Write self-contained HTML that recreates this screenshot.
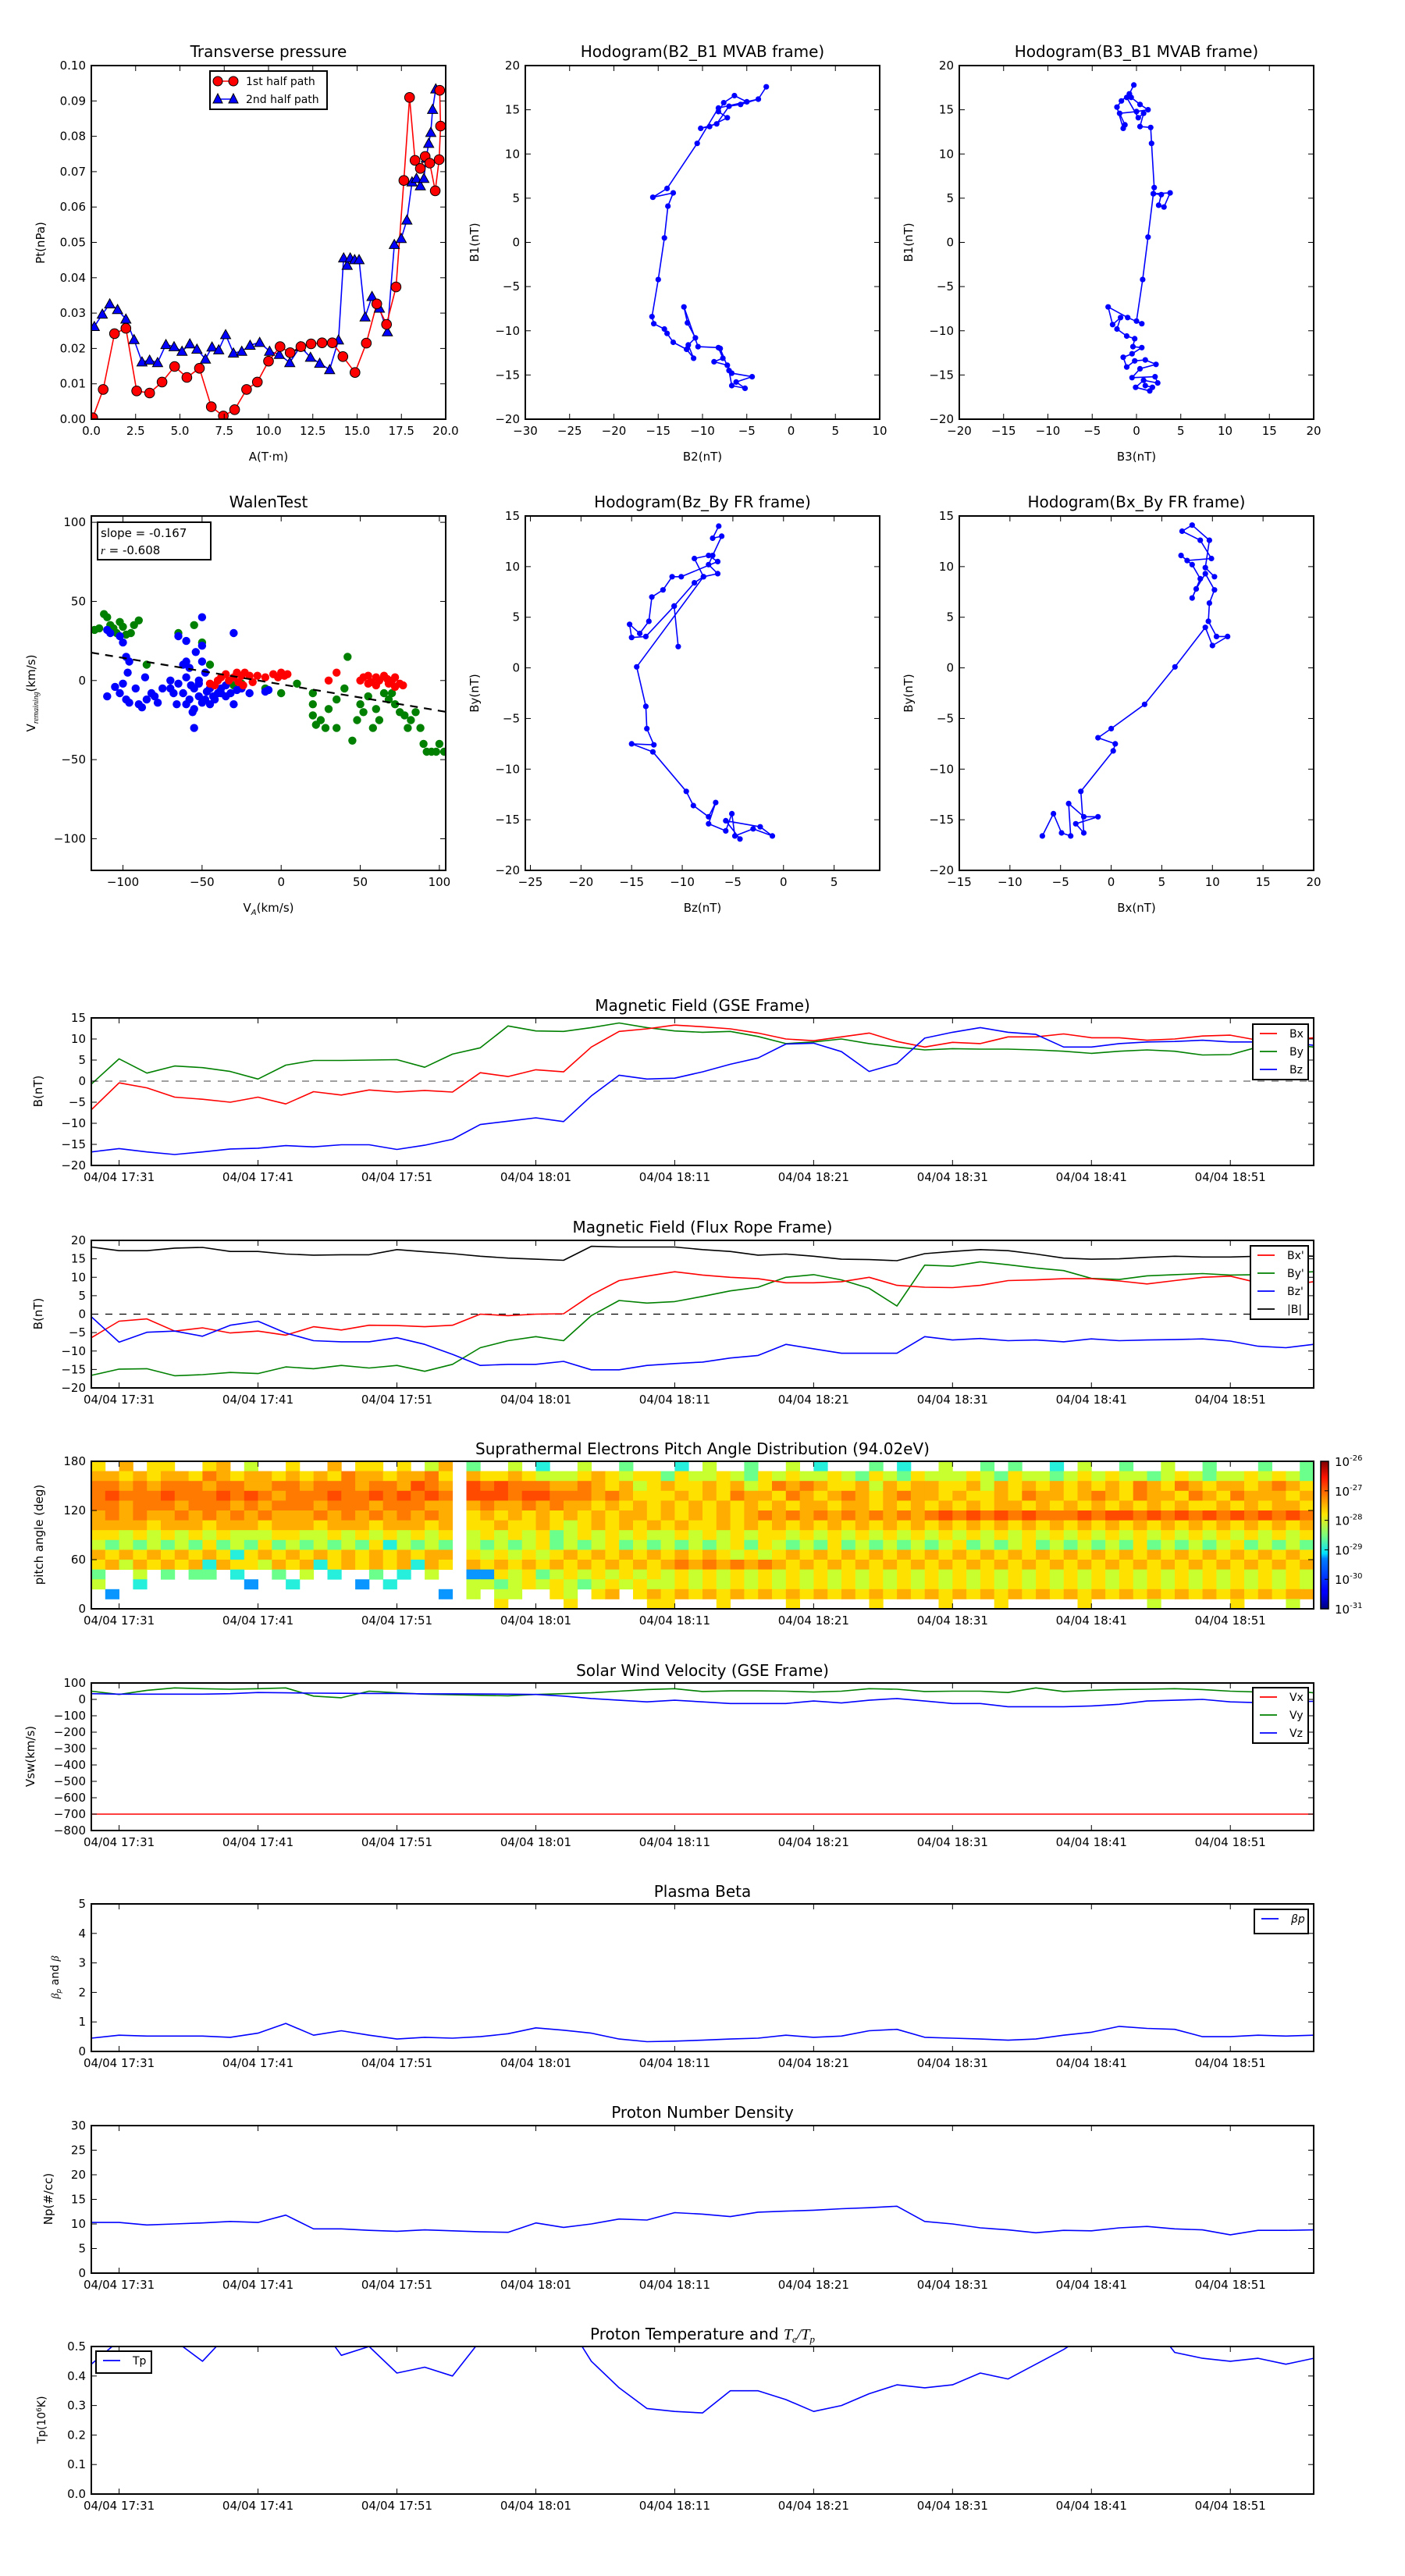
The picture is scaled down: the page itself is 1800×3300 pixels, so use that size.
<!DOCTYPE html>
<html><head><meta charset="utf-8"><title>Flux rope analysis figure</title>
<style>
html,body{margin:0;padding:0;background:#fff;}
svg{display:block;font-family:"DejaVu Sans","Liberation Sans",sans-serif;}
</style></head>
<body>
<svg id="fig" xmlns="http://www.w3.org/2000/svg" width="1800" height="3300" viewBox="0 0 1800 3300">
<rect x="0" y="0" width="1800" height="3300" fill="#fff"/>
<defs>
<linearGradient id="jet" x1="0" y1="1" x2="0" y2="0">
<stop offset="0" stop-color="#00007f"/><stop offset="0.11" stop-color="#0000ff"/><stop offset="0.125" stop-color="#0000ff"/>
<stop offset="0.34" stop-color="#0080ff"/><stop offset="0.375" stop-color="#00e0ff"/><stop offset="0.5" stop-color="#7dff7a"/>
<stop offset="0.64" stop-color="#ffe600"/><stop offset="0.75" stop-color="#ff8c00"/><stop offset="0.89" stop-color="#ff1400"/><stop offset="1" stop-color="#7f0000"/>
</linearGradient>
</defs>
</svg>
<script>
// ---------------- DATA ----------------
// Transverse pressure
const tpA1 = [0.08,0.67,1.31,1.95,2.56,3.29,3.99,4.7,5.39,6.1,6.77,7.45,8.09,8.76,9.37,10.0,10.65,11.22,11.83,12.4,13.02,13.6,14.2,14.88,15.52,16.11,16.66,17.2,17.64,17.96,18.27,18.57,18.84,19.1,19.41,19.63,19.71,19.66];
const tpP1 = [0.0004,0.0084,0.0242,0.0257,0.0080,0.0074,0.0105,0.0149,0.0118,0.0144,0.0035,0.0009,0.0027,0.0084,0.0105,0.0164,0.0205,0.0188,0.0205,0.0213,0.0216,0.0216,0.0177,0.0132,0.0215,0.0326,0.0268,0.0374,0.0675,0.091,0.0732,0.0709,0.0743,0.0724,0.0646,0.0734,0.0829,0.093];
const tpA2 = [0.17,0.62,1.04,1.48,1.95,2.41,2.86,3.29,3.74,4.21,4.67,5.12,5.56,5.96,6.44,6.81,7.19,7.58,8.02,8.49,8.96,9.5,10.06,10.61,11.2,11.79,12.37,12.89,13.45,13.95,14.24,14.44,14.61,14.86,15.11,15.45,15.84,16.26,16.71,17.1,17.49,17.81,18.1,18.35,18.57,18.77,18.9,19.04,19.16,19.26,19.44];
const tpP2 = [0.0262,0.0297,0.0326,0.031,0.0283,0.0225,0.0162,0.0167,0.016,0.0211,0.0205,0.0192,0.0213,0.0198,0.017,0.0204,0.0196,0.0239,0.0187,0.0192,0.0209,0.0217,0.0192,0.0183,0.016,0.0205,0.0175,0.0158,0.014,0.0224,0.0456,0.0435,0.0456,0.0451,0.0451,0.0289,0.0347,0.0314,0.0247,0.0494,0.0511,0.0563,0.0671,0.0681,0.066,0.0681,0.0738,0.078,0.0811,0.0876,0.0934];
// Hodogram B2-B1
const h1X = [-2.8,-3.7,-5,-6.4,-7.6,-8.2,-7.2,-9.2,-10.2,-8.4,-7,-5.7,-3.7,-8.2,-10.6,-14,-15.6,-13.3,-13.9,-14.3,-15,-15.7,-15.5,-14.3,-14,-13.3,-11.8,-11,-11.6,-10.8,-11.7,-12.1,-10.5,-8.2,-7.7,-8.7,-7.2,-6.7,-4.4,-6.2,-5.2,-6.7,-7,-8];
const h1Y = [17.6,16.2,15.9,16.6,15.8,14.8,14.1,13.1,12.9,13.4,15.4,15.6,16.2,15.2,11.2,6.1,5.1,5.6,4.1,0.5,-4.2,-8.4,-9.2,-9.8,-10.3,-11.3,-12.1,-13.1,-11.6,-10.8,-9.1,-7.3,-11.8,-11.9,-13.1,-13.5,-13.9,-14.8,-15.2,-15.8,-16.5,-16.2,-14.5,-12];
// Hodogram B3-B1
const h2X = [-0.3,-0.8,-1.7,-2.2,-1.5,-1.3,-1.9,0,1.3,0.4,-0.6,-1.1,0.2,0.8,0.4,1.6,1.7,2,1.9,3.8,3.1,2.5,2.8,1.9,1.3,0.7,0,0.6,-1,-3.2,-2.7,-1.8,-2.2,-1.1,-0.2,-0.4,0.6,-0.5,-1.5,-1.1,-0.2,1,2.2,0.4,-0.5,2.1,2.4,0.8,-0.1,1.5,1.8,1];
const h2Y = [17.8,16.8,16,15.3,12.9,13.3,14.6,14.8,15,15.6,16.4,16.4,14.1,14.6,13.1,13,11.2,6.2,5.5,5.6,4,4.2,5.4,5.5,0.6,-4.2,-8.9,-9.2,-8.5,-7.3,-9.3,-8.5,-9.8,-10.6,-10.9,-11.8,-11.9,-12.6,-13,-14.1,-13.4,-13.3,-13.8,-14.3,-15.3,-15.2,-15.9,-15.6,-16.4,-16.8,-16.4,-16.2];
// Hodogram Bz-By (FR)
const h3X = [-6.4,-7,-6.1,-7,-7.4,-6.5,-7.9,-8.8,-7.4,-6.5,-10.1,-11,-11.9,-13,-13.3,-14.2,-15.2,-15,-13.6,-10.8,-10.4,-10.8,-8.8,-7.9,-14.5,-13.6,-13.5,-12.8,-15,-12.9,-9.6,-8.9,-7.4,-6.7,-7.4,-5.7,-5.1,-4.8,-3,-1.1,-2.3,-5.7,-4.3];
const h3Y = [14,12.8,13,11.1,10.2,9.3,9,10.8,11.1,10.5,9,9,7.7,7,4.6,3.4,4.3,3,3.1,6.1,2.1,6.1,8.4,9,0.1,-3.8,-6,-7.6,-7.5,-8.3,-12.2,-13.6,-14.7,-13.3,-15.4,-16.1,-14.4,-16.6,-15.9,-16.6,-15.7,-15.1,-16.9];
// Hodogram Bx-By (FR)
const h4X = [-6.8,-5.7,-4.9,-4,-4.2,-2.7,-1.3,-3.5,-2.7,-3,0.2,0.4,-1.3,0,3.3,6.3,9.3,10,11.5,10.4,9.6,9.7,10.2,9.3,8.4,8,8.8,8,6.9,7.5,9.9,8.8,7,8,9.7,9.3,10.2];
const h4Y = [-16.6,-14.4,-16.3,-16.6,-13.4,-14.7,-14.7,-15.4,-16.3,-12.2,-8.2,-7.5,-6.9,-6,-3.6,0.1,4,2.2,3.1,3.1,4.6,6.4,7.7,9.3,7.8,6.9,8.8,10.2,11.1,10.6,10.8,12.6,13.5,14.1,12.6,9.9,9];
// Walen test
const walenSlope = -0.167, walenIntercept = -2.4;
const wBlueX = [-110,-108,-102,-100,-98,-96,-97,-100,-102,-98,-96,-90,-88,-85,-80,-78,-75,-70,-68,-65,-60,-62,-58,-55,-55,-52,-50,-50,-50,-48,-52,-55,-58,-60,-62,-45,-42,-40,-45,-48,-38,-35,-30,-30,-32,-28,-25,-20,-10,-8,-54,-60,-65,-70,-52,-47,-44,-50,-56,-66,-60,-57,-43,-38,-35,-105,-110,-92,-86,-82];
const wBlueY = [32,30,28,24,15,12,5,-2,-8,-12,-14,-15,-17,-12,-10,-14,-5,-5,-8,28,25,10,8,-18,-30,-10,40,22,12,5,0,-5,-12,-15,-8,-5,-12,-8,-15,-12,-5,-3,30,-15,-8,-6,-5,-8,-7,-6,18,2,-2,0,-2,-7,-3,-14,-20,-15,12,-3,-10,-8,-10,-4,-10,-5,2,-8];
const wGreenX = [-118,-115,-112,-110,-108,-106,-104,-102,-100,-98,-95,-93,-90,-85,-65,-55,-50,-45,-30,-25,-10,0,10,20,20,20,22,25,28,30,35,35,40,42,45,48,50,52,55,58,60,62,65,68,70,72,75,78,80,82,85,88,90,92,95,98,100,103];
const wGreenY = [32,33,42,40,35,33,30,37,34,29,30,35,38,10,30,35,24,10,-3,-2,-5,-8,-2,-8,-15,-22,-28,-25,-30,-18,-30,-12,-5,15,-38,-25,-15,-20,-10,-30,-18,-25,-8,-12,-8,-15,-20,-22,-30,-25,-20,-30,-40,-45,-45,-45,-40,-45];
const wRedX = [-40,-38,-35,-33,-30,-28,-25,-23,-20,-15,-10,-5,-2,0,2,4,50,52,55,57,60,62,65,67,70,72,75,77,60,55,68,72,30,35,-27,-24,-18,-42,-45];
const wRedY = [0,2,4,0,2,5,3,5,3,3,2,4,2,5,3,4,0,2,3,-1,2,0,3,1,0,2,-2,-3,-3,-2,-2,-4,0,5,-1,-3,-1,-3,-2];
// Time series (minutes after 17:29, 2-min sampling)
const tMin = [0,2,4,6,8,10,12,14,16,18,20,22,24,26,28,30,32,34,36,38,40,42,44,46,48,50,52,54,56,58,60,62,64,66,68,70,72,74,76,78,80,82,84,86,88];
const timeTickMin = [2,12,22,32,42,52,62,72,82];
const timeTickLabels = ["04/04 17:31","04/04 17:41","04/04 17:51","04/04 18:01","04/04 18:11","04/04 18:21","04/04 18:31","04/04 18:41","04/04 18:51"];
const bxGSE = [-6.8,-0.4,-1.6,-3.8,-4.3,-5,-3.8,-5.4,-2.5,-3.3,-2.1,-2.6,-2.2,-2.6,2,1.1,2.7,2.2,8.1,11.8,12.4,13.3,12.9,12.4,11.4,10,9.6,10.5,11.4,9.4,8.1,9.2,8.9,10.5,10.5,11.2,10.3,10.3,9.7,10,10.7,10.9,9.7,9.7,10.3];
const byGSE = [-0.7,5.3,1.9,3.6,3.2,2.3,0.5,3.8,4.9,4.9,5,5.1,3.3,6.4,7.9,13.1,11.9,11.8,12.7,13.8,12.7,11.9,11.6,11.8,10.6,8.9,9.3,10,8.9,8.1,7.4,7.7,7.6,7.6,7.4,7.1,6.6,7.1,7.4,7.1,6.2,6.3,8.1,8.8,8.1];
const bzGSE = [-16.8,-16,-16.8,-17.4,-16.8,-16.1,-15.9,-15.3,-15.6,-15.1,-15.1,-16.2,-15.2,-13.8,-10.3,-9.5,-8.7,-9.6,-3.5,1.4,0.5,0.7,2.2,4,5.5,8.8,9,7,2.3,4.2,10.2,11.6,12.7,11.6,11.1,8.1,8.1,8.9,9.3,9.4,9.7,9.3,9.3,9.2,8.5];
const bxFR = [-6.4,-1.9,-1.3,-4.6,-3.7,-5.1,-4.6,-5.7,-3.4,-4.3,-3,-3.1,-3.4,-3,0,-0.4,0,0.1,5.2,9.1,10.3,11.5,10.6,10,9.6,8.5,8.5,8.8,10,7.8,7.3,7.2,7.8,9.1,9.3,9.6,9.6,9,8.2,9.1,10,10.3,8.5,7.8,8.8];
const byFR = [-16.6,-14.9,-14.8,-16.7,-16.4,-15.8,-16.1,-14.3,-14.8,-13.9,-14.6,-13.9,-15.5,-13.6,-9.1,-7.2,-6.1,-7.2,-0.4,3.7,3,3.4,4.8,6.3,7.3,10,10.7,9.3,7,2.2,13.3,13,14.2,13.4,12.5,11.8,9.7,9.4,10.4,10.7,11,10.6,10.7,11.2,11.5];
const bzFR = [-0.7,-7.6,-4.9,-4.6,-6,-3,-1.9,-5.1,-7.2,-7.5,-7.5,-6.4,-8.2,-10.9,-13.9,-13.6,-13.6,-12.8,-15.1,-15.1,-13.9,-13.4,-13,-11.9,-11.2,-8.2,-9.4,-10.6,-10.6,-10.6,-6.1,-7,-6.6,-7.2,-7,-7.5,-6.7,-7.2,-7,-6.9,-6.7,-7.3,-8.7,-9.1,-8.2];
const btFR = [18.2,17.2,17.2,17.9,18.1,17,17,16.3,16,16.1,16.1,17.5,16.9,16.4,15.7,15.2,14.9,14.6,18.4,18.2,18.2,18.2,17.5,17,16,16.3,15.7,14.9,14.8,14.5,16.4,17,17.5,17.2,16.3,15.2,14.9,15,15.4,15.7,15.5,15.5,15.7,16,15.7];
const vxSW = [-700,-700,-700,-700,-700,-700,-700,-700,-700,-700,-700,-700,-700,-700,-700,-700,-700,-700,-700,-700,-700,-700,-700,-700,-700,-700,-700,-700,-700,-700,-700,-700,-700,-700,-700,-700,-700,-700,-700,-700,-700,-700,-700,-700,-700];
const vySW = [50,30,55,70,65,62,65,70,20,10,50,40,32,28,25,22,30,35,40,50,60,65,48,52,52,50,45,50,65,62,48,50,50,42,70,48,55,60,62,65,60,50,45,55,40];
const vzSW = [35,32,32,32,32,35,42,40,38,37,36,36,34,34,33,32,30,20,5,-5,-15,-5,-15,-25,-25,-25,-10,-22,-5,5,-10,-25,-25,-45,-45,-45,-40,-30,-10,-5,0,-15,-20,-15,-12];
const betaP = [0.45,0.55,0.52,0.52,0.52,0.48,0.62,0.95,0.55,0.7,0.55,0.42,0.48,0.45,0.5,0.6,0.8,0.72,0.62,0.42,0.33,0.35,0.38,0.42,0.45,0.55,0.48,0.52,0.7,0.75,0.48,0.45,0.42,0.38,0.42,0.55,0.65,0.85,0.78,0.75,0.5,0.5,0.55,0.52,0.55];
const npDen = [10.3,10.3,9.8,10,10.2,10.5,10.3,11.8,9,9,8.7,8.5,8.8,8.6,8.4,8.3,10.2,9.3,10,11,10.8,12.3,12,11.5,12.4,12.6,12.8,13.1,13.3,13.6,10.5,10,9.2,8.8,8.2,8.7,8.6,9.2,9.5,9,8.8,7.8,8.7,8.7,8.8];
const tpTemp = [0.44,0.52,0.55,0.52,0.45,0.55,0.52,0.6,0.6,0.47,0.5,0.41,0.43,0.4,0.52,0.6,0.6,0.6,0.45,0.36,0.29,0.28,0.275,0.35,0.35,0.32,0.28,0.3,0.34,0.37,0.36,0.37,0.41,0.39,0.44,0.49,0.55,0.6,0.6,0.48,0.46,0.45,0.46,0.44,0.46];
// Pitch angle distribution: rows of 12-deg bins from 168-180 (top) to 0-12 (bottom); one char per minute, '.' = no data
const padRows = [
"5.6.55..56.4..5..6.55.5.46"+"."+"3..4.2..4..3...2.4..3..4.2...3.2..4..3.3..2.4..3..4..3...3..3",
"66565665765665656576656675"+"."+"6556544456545535445435454454354354445435443454544345434454543",
"77676777677667767776776876"+"."+"8787776676564565565645767655646566556465656565657657656656765",
"78777877787876777877878787"+"."+"8887887776765556565766576567656766565565766567657665765766656",
"77677767776767776777677766"+"."+"6766767665656565656565656656656565656566565656565656556565665",
"67676676767676667676767676"+"."+"5656565656566565656567676767676767878787877787887878787878787",
"66665666566656665666566656"+"."+"5565565456565656556565656565656565656565656565656565656565656",
"55454545454445544545454545"+"."+"4545453454545445454545545454545454545454545454545454545454545",
"43434343534353434343524343"+"."+"4343453434534343434535434353434343453434534343435343434534343",
"65656565652565656565656566"+"."+"5454545656565656565454565656565656565656565656565656565656565",
"56465656265546562565656265"+"."+"6565656565656567676767656565656565656565656565656565656565656",
"3..4.3.33.2..3.4.2..3.2.4."+"."+"1154534545454545454545454545454545454545454545454545454545454",
"4..2.......1..2....1.2...."+"."+"4434545434545445454545454545454545454545454545454545454545454",
".1.......................1"+"."+"4.44..54.56.5656565656565656565656565656565656565656565656566",
".........................."+"."+"..5....5.....55...5....5.....5....5...5.....5....4.....5...4."
];
const padLevelColors = {"1":"#0a96ff","2":"#26f0dc","3":"#6bff8c","4":"#c8ff2e","5":"#ffe100","6":"#ffad00","7":"#ff7a00","8":"#ff4a00"};
const cbarLabels = ["-31","-30","-29","-28","-27","-26"];

// ---------------- DRAWING ----------------
const NS = 'http://www.w3.org/2000/svg';
const root = document.getElementById('fig');
let clipId = 0;
function mk(tag, attrs, parent){
  const e = document.createElementNS(NS, tag);
  for (const k in attrs) e.setAttribute(k, attrs[k]);
  (parent || root).appendChild(e);
  return e;
}
function text(s, x, y, size, anchor, parent){
  const t = mk('text', {x:x, y:y, 'font-size':size, 'text-anchor':anchor||'start', fill:'#000'}, parent);
  t.textContent = s;
  return t;
}
function fmt(v, d){ const s = v.toFixed(d); return s.replace('-', '\u2212'); }

function makeAxes(name, box, xlim, ylim, xticks, yticks, xdec, ydec, xlabels){
  const g = mk('g', {});
  
  
  const sx = v => box.x0 + (v - xlim[0]) / (xlim[1] - xlim[0]) * (box.x1 - box.x0);
  const sy = v => box.y1 - (v - ylim[0]) / (ylim[1] - ylim[0]) * (box.y1 - box.y0);
  const cid = 'clip' + (clipId++);
  const cp = mk('clipPath', {id: cid}, g);
  mk('rect', {x: box.x0, y: box.y0, width: box.x1 - box.x0, height: box.y1 - box.y0}, cp);
  const data = mk('g', {'clip-path': 'url(#' + cid + ')'}, g);
  
  
  const ax = {g, data, sx, sy, box};
  ax.finish = function(){
    const tg = mk('g', {stroke:'#000', 'stroke-width':1}, g);
    
    
    const lg = mk('g', {}, g);
    
    
    xticks.forEach((v, i) => {
      const x = sx(v);
      mk('line', {x1:x, x2:x, y1:box.y1, y2:box.y1 - 7}, tg);
      mk('line', {x1:x, x2:x, y1:box.y0, y2:box.y0 + 7}, tg);
      const lab = xlabels ? xlabels[i] : fmt(v, xdec);
      const t = text(lab, x, box.y1 + 20, 15, 'middle', lg);
      
      
    });
    yticks.forEach(v => {
      const y = sy(v);
      mk('line', {x1:box.x0, x2:box.x0 + 7, y1:y, y2:y}, tg);
      mk('line', {x1:box.x1, x2:box.x1 - 7, y1:y, y2:y}, tg);
      const t = text(fmt(v, ydec), box.x0 - 7, y + 5, 15, 'end', lg);
      
      
    });
    const fr = mk('rect', {x:box.x0, y:box.y0, width:box.x1 - box.x0, height:box.y1 - box.y0, fill:'none', stroke:'#000', 'stroke-width':2}, g);
    
    
  };
  return ax;
}
function title(s, x, y, parent){
  const t = text(s, x, y, 20, 'middle', parent || root);
  
  
  return t;
}
function ylabel(s, x, y, parent){
  const t = mk('text', {x:0, y:0, 'font-size':15, 'text-anchor':'middle', transform:'translate(' + x + ',' + y + ') rotate(-90)'}, parent || root);
  t.textContent = s;
  
  
  return t;
}
function xlabel(s, x, y, parent){
  const t = text(s, x, y, 15, 'middle', parent || root);
  
  
  return t;
}
function polyline(ax, xs, ys, color, name, width){
  const pts = xs.map((x, i) => ax.sx(x).toFixed(1) + ',' + ax.sy(ys[i]).toFixed(1)).join(' ');
  const p = mk('polyline', {points:pts, fill:'none', stroke:color, 'stroke-width':width || 1.6, 'stroke-linejoin':'round'}, ax.data);
  
  
  return p;
}
function dots(ax, xs, ys, color, r, name, edge){
  const g = mk('g', {fill:color}, ax.data);
  
  
  xs.forEach((x, i) => {
    const c = mk('circle', {cx:ax.sx(x).toFixed(1), cy:ax.sy(ys[i]).toFixed(1), r:r}, g);
    if (edge) { c.setAttribute('stroke', '#000'); c.setAttribute('stroke-width', 1); }
    
    
  });
  return g;
}
function tris(ax, xs, ys, color, s, name){
  const g = mk('g', {fill:color, stroke:'#000', 'stroke-width':1}, ax.data);
  
  
  xs.forEach((x, i) => {
    const cx = ax.sx(x), cy = ax.sy(ys[i]);
    const p = mk('polygon', {points:(cx) + ',' + (cy - s) + ' ' + (cx - s) + ',' + (cy + s * 0.8) + ' ' + (cx + s) + ',' + (cy + s * 0.8)}, g);
    
    
  });
}
function legendBox(x0, y0, w, h, entries, name){
  const g = mk('g', {});
  
  
  mk('rect', {x:x0, y:y0, width:w, height:h, fill:'#fff', stroke:'#000', 'stroke-width':2}, g);
  entries.forEach((e, i) => {
    const y = y0 + 12 + i * 23;
    const eg = mk('g', {}, g);
    
    
    mk('line', {x1:x0 + 9, x2:x0 + 31, y1:y, y2:y, stroke:e.c, 'stroke-width':1.8}, eg);
    const t = text(e.t, x0 + 47, y + 5, 14, 'start', eg);
    if (e.italic) t.setAttribute('font-style', 'italic');
  });
}

// ---- Transverse pressure ----
const tpBox = {x0:117, x1:571, y0:84, y1:537};
const axTP = makeAxes('transverse-pressure-chart', tpBox, [0,20], [0,0.10], [0,2.5,5,7.5,10,12.5,15,17.5,20], [0,0.01,0.02,0.03,0.04,0.05,0.06,0.07,0.08,0.09,0.10], 1, 2);
polyline(axTP, tpA2, tpP2, '#0000ff', 'second-half-path-line');
polyline(axTP, tpA1, tpP1, '#ff0000', 'first-half-path-line');
tris(axTP, tpA2, tpP2, '#0000ff', 6.5, 'second-half-path-markers');
dots(axTP, tpA1, tpP1, '#ff0000', 6.3, 'first-half-path-markers', true);
axTP.finish();
title('Transverse pressure', 344, 73);
xlabel('A(T\u00b7m)', 344, 590);
ylabel('Pt(nPa)', 57, 311);
(function(){
  const g = mk('g', {});
  
  
  mk('rect', {x:269, y:91, width:150, height:49, fill:'#fff', stroke:'#000', 'stroke-width':2}, g);
  mk('line', {x1:279, x2:299, y1:104, y2:104, stroke:'#f00', 'stroke-width':1.6}, g);
  mk('circle', {cx:279, cy:104, r:6, fill:'#f00', stroke:'#000'}, g);
  mk('circle', {cx:299, cy:104, r:6, fill:'#f00', stroke:'#000'}, g);
  text('1st half path', 315, 109, 14, 'start', g);
  mk('line', {x1:279, x2:299, y1:127, y2:127, stroke:'#00f', 'stroke-width':1.6}, g);
  mk('polygon', {points:'279,120 273,132 285,132', fill:'#00f', stroke:'#000'}, g);
  mk('polygon', {points:'299,120 293,132 305,132', fill:'#00f', stroke:'#000'}, g);
  text('2nd half path', 315, 132, 14, 'start', g);
})();

// ---- Hodograms ----
function hodo(name, box, xlim, ylim, xt, yt, xs, ys, ttl, xl, yl, ylx){
  const ax = makeAxes(name, box, xlim, ylim, xt, yt, 0, 0);
  polyline(ax, xs, ys, '#0000ff', name + '-path', 1.6);
  dots(ax, xs, ys, '#0000ff', 3.6, name + '-samples', false);
  ax.finish();
  title(ttl, (box.x0 + box.x1) / 2, box.y0 - 11);
  xlabel(xl, (box.x0 + box.x1) / 2, box.y1 + 53);
  ylabel(yl, ylx, (box.y0 + box.y1) / 2);
  return ax;
}
hodo('hodogram-b2-b1', {x0:673, x1:1127, y0:84, y1:537}, [-30,10], [-20,20], [-30,-25,-20,-15,-10,-5,0,5,10], [-20,-15,-10,-5,0,5,10,15,20], h1X, h1Y, 'Hodogram(B2_B1 MVAB frame)', 'B2(nT)', 'B1(nT)', 613);
hodo('hodogram-b3-b1', {x0:1229, x1:1683, y0:84, y1:537}, [-20,20], [-20,20], [-20,-15,-10,-5,0,5,10,15,20], [-20,-15,-10,-5,0,5,10,15,20], h2X, h2Y, 'Hodogram(B3_B1 MVAB frame)', 'B3(nT)', 'B1(nT)', 1169);
hodo('hodogram-bz-by', {x0:673, x1:1127, y0:661, y1:1115}, [-25.5,9.5], [-20,15], [-25,-20,-15,-10,-5,0,5], [-20,-15,-10,-5,0,5,10,15], h3X, h3Y, 'Hodogram(Bz_By FR frame)', 'Bz(nT)', 'By(nT)', 613);
hodo('hodogram-bx-by', {x0:1229, x1:1683, y0:661, y1:1115}, [-15,20], [-20,15], [-15,-10,-5,0,5,10,15,20], [-20,-15,-10,-5,0,5,10,15], h4X, h4Y, 'Hodogram(Bx_By FR frame)', 'Bx(nT)', 'By(nT)', 1169);

// ---- Walen test ----
const wBox = {x0:117, x1:571, y0:661, y1:1115};
const axW = makeAxes('walen-test-chart', wBox, [-120,104], [-120,104], [-100,-50,0,50,100], [-100,-50,0,50,100], 0, 0);
dots(axW, wGreenX, wGreenY, '#008000', 5.2, 'walen-green-points');
dots(axW, wBlueX, wBlueY, '#0000ff', 5.2, 'walen-blue-points');
dots(axW, wRedX, wRedY, '#ff0000', 5.2, 'walen-red-points');
(function(){
  const l = mk('line', {x1:axW.sx(-120), y1:axW.sy(walenSlope * -120 + walenIntercept), x2:axW.sx(104), y2:axW.sy(walenSlope * 104 + walenIntercept), stroke:'#000', 'stroke-width':2.2, 'stroke-dasharray':'10,8'}, axW.data);
  
  
})();
axW.finish();
title('WalenTest', 344, 650);
(function(){
  const g = mk('g', {});
  
  
  mk('rect', {x:125, y:669, width:145, height:48, fill:'#fff', stroke:'#000', 'stroke-width':2}, g);
  text('slope = -0.167', 129, 688, 15, 'start', g);
  const t = text('', 129, 710, 15, 'start', g);
  const a = mk('tspan', {'font-style':'italic', 'font-family':'Liberation Serif, serif'}, t); a.textContent = 'r';
  const b = mk('tspan', {}, t); b.textContent = ' = -0.608';
})();
(function(){
  const t = text('', 344, 1168, 15, 'middle');
  
  
  const a = mk('tspan', {}, t); a.textContent = 'V';
  const b = mk('tspan', {'font-size':10, 'font-style':'italic', dy:4}, t); b.textContent = 'A';
  const c = mk('tspan', {dy:-4}, t); c.textContent = '(km/s)';
  const y = mk('text', {x:0, y:0, 'font-size':15, 'text-anchor':'middle', transform:'translate(45,888) rotate(-90)'});
  
  
  const d = mk('tspan', {}, y); d.textContent = 'V';
  const e = mk('tspan', {'font-size':10, 'font-style':'italic', 'font-family':'Liberation Serif, serif', dy:4}, y); e.textContent = 'remaining';
  const f = mk('tspan', {dy:-4}, y); f.textContent = '(km/s)';
})();

// ---- Time-series panels ----
function timeAxes(name, top, ylim, yt, ydec){
  return makeAxes(name, {x0:117, x1:1683, y0:top, y1:top + 189}, [0,88], ylim, timeTickMin, yt, 0, ydec, timeTickLabels);
}
function zeroLine(ax, color){
  const l = mk('line', {x1:117, x2:1683, y1:ax.sy(0), y2:ax.sy(0), stroke:color, 'stroke-width':1.2, 'stroke-dasharray':'9,9'}, ax.data);
  
  
}

// Magnetic field GSE
const axB1 = timeAxes('magnetic-field-gse-chart', 1304, [-20,15], [-20,-15,-10,-5,0,5,10,15], 0);
zeroLine(axB1, '#666');
polyline(axB1, tMin, byGSE, '#008000', 'by-gse-line');
polyline(axB1, tMin, bxGSE, '#ff0000', 'bx-gse-line');
polyline(axB1, tMin, bzGSE, '#0000ff', 'bz-gse-line');
axB1.finish();
title('Magnetic Field (GSE Frame)', 900, 1295);
ylabel('B(nT)', 54, 1398);
legendBox(1605, 1312, 71, 71, [{t:'Bx', c:'#f00'}, {t:'By', c:'#008000'}, {t:'Bz', c:'#00f'}], 'gse-field-legend');

// Magnetic field FR
const axB2 = timeAxes('magnetic-field-flux-rope-chart', 1589, [-20,20], [-20,-15,-10,-5,0,5,10,15,20], 0);
zeroLine(axB2, '#000');
polyline(axB2, tMin, btFR, '#000', 'b-total-line');
polyline(axB2, tMin, byFR, '#008000', 'by-prime-line');
polyline(axB2, tMin, bxFR, '#ff0000', 'bx-prime-line');
polyline(axB2, tMin, bzFR, '#0000ff', 'bz-prime-line');
axB2.finish();
title('Magnetic Field (Flux Rope Frame)', 900, 1579);
ylabel('B(nT)', 54, 1683);
legendBox(1602, 1596, 74, 94, [{t:"Bx'", c:'#f00'}, {t:"By'", c:'#008000'}, {t:"Bz'", c:'#00f'}, {t:'|B|', c:'#000'}], 'flux-rope-field-legend');

// Pitch angle distribution
const axP = timeAxes('pitch-angle-heatmap', 1872, [0,180], [0,60,120,180], 0);
(function(){
  const g = mk('g', {}, axP.data);
  
  
  padRows.forEach((row, r) => {
    const angHi = 180 - r * 12, angLo = angHi - 12;
    for (let c = 0; c < 88; c++) {
      const ch = row[c];
      if (!ch || ch === '.') continue;
      const x0 = axP.sx(c), x1 = axP.sx(c + 1);
      const y0 = axP.sy(angHi), y1 = axP.sy(angLo);
      const rc = mk('rect', {x:x0.toFixed(1), y:y0.toFixed(1), width:(x1 - x0 + 0.4).toFixed(1), height:(y1 - y0 + 0.4).toFixed(1), fill:padLevelColors[ch]}, g);
      
      
    }
  });
})();
axP.finish();
title('Suprathermal Electrons Pitch Angle Distribution (94.02eV)', 900, 1863);
ylabel('pitch angle (deg)', 55, 1966);
(function(){
  const g = mk('g', {});
  
  
  mk('rect', {x:1692, y:1872, width:10, height:189, fill:'url(#jet)', stroke:'#000', 'stroke-width':1.5}, g);
  cbarLabels.forEach((lab, i) => {
    const y = 2061 - i * 189 / 5;
    mk('line', {x1:1697, x2:1702, y1:y, y2:y, stroke:'#000'}, g);
    const t = text('10', 1710, y + 6, 15, 'start', g);
    
    
    const s = mk('tspan', {'font-size':10, dy:-7}, t); s.textContent = lab;
  });
})();

// Solar wind velocity
const axV = timeAxes('solar-wind-velocity-chart', 2156, [-800,100], [-800,-700,-600,-500,-400,-300,-200,-100,0,100], 0);
polyline(axV, tMin, vxSW, '#ff0000', 'vx-line');
polyline(axV, tMin, vySW, '#008000', 'vy-line');
polyline(axV, tMin, vzSW, '#0000ff', 'vz-line');
axV.finish();
title('Solar Wind Velocity (GSE Frame)', 900, 2147);
ylabel('Vsw(km/s)', 44, 2250);
legendBox(1605, 2162, 71, 71, [{t:'Vx', c:'#f00'}, {t:'Vy', c:'#008000'}, {t:'Vz', c:'#00f'}], 'velocity-legend');

// Plasma beta
const axBeta = timeAxes('plasma-beta-chart', 2439, [0,5], [0,1,2,3,4,5], 0);
polyline(axBeta, tMin, betaP, '#0000ff', 'beta-p-line');
axBeta.finish();
title('Plasma Beta', 900, 2430);
(function(){
  const y = mk('text', {x:0, y:0, 'font-size':14, 'text-anchor':'middle', transform:'translate(75,2533) rotate(-90)'});
  
  
  const a = mk('tspan', {'font-style':'italic', 'font-family':'Liberation Serif, serif'}, y); a.textContent = '\u03b2';
  const b = mk('tspan', {'font-size':9, 'font-style':'italic', dy:3}, y); b.textContent = 'p';
  const c = mk('tspan', {dy:-3}, y); c.textContent = ' and ';
  const d = mk('tspan', {'font-style':'italic', 'font-family':'Liberation Serif, serif'}, y); d.textContent = '\u03b2';
})();
legendBox(1607, 2446, 69, 31, [{t:'\u03b2p', c:'#00f', italic:true}], 'beta-legend');

// Proton density
const axN = timeAxes('proton-density-chart', 2723, [0,30], [0,5,10,15,20,25,30], 0);
polyline(axN, tMin, npDen, '#0000ff', 'density-line');
axN.finish();
title('Proton Number Density', 900, 2713);
ylabel('Np(#/cc)', 67, 2817);

// Proton temperature
const axT = timeAxes('proton-temperature-chart', 3006, [0,0.5], [0,0.1,0.2,0.3,0.4,0.5], 1);
polyline(axT, tMin, tpTemp, '#0000ff', 'temperature-line');
axT.finish();
(function(){
  const t = text('Proton Temperature and ', 900, 2997, 20, 'middle');
  
  
  const a = mk('tspan', {'font-style':'italic', 'font-family':'Liberation Serif, serif'}, t); a.textContent = 'T';
  const b = mk('tspan', {'font-size':13, 'font-style':'italic', 'font-family':'Liberation Serif, serif', dy:4}, t); b.textContent = 'e';
  const c = mk('tspan', {dy:-4, 'font-style':'italic', 'font-family':'Liberation Serif, serif'}, t); c.textContent = '/T';
  const d = mk('tspan', {'font-size':13, 'font-style':'italic', 'font-family':'Liberation Serif, serif', dy:4}, t); d.textContent = 'p';
  const y = mk('text', {x:0, y:0, 'font-size':14, 'text-anchor':'middle', transform:'translate(58,3100) rotate(-90)'});
  
  
  const e = mk('tspan', {}, y); e.textContent = 'Tp(10';
  const f = mk('tspan', {'font-size':9, dy:-5}, y); f.textContent = '6';
  const h = mk('tspan', {dy:5}, y); h.textContent = 'K)';
})();
legendBox(123, 3012, 71, 28, [{t:'Tp', c:'#00f'}], 'temperature-legend');
</script>
</body></html>
